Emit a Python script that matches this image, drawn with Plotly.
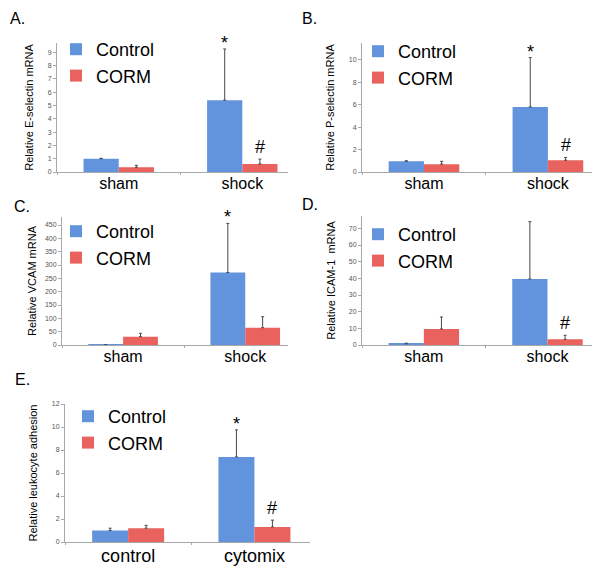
import plotly.graph_objects as go

# ---------------- data ----------------
series_names = ["Control", "CORM"]

a_categories = ["sham", "shock"]
a_control = [1.0, 5.4]
a_control_err = [0.03, 3.85]
a_corm = [0.35, 0.6]
a_corm_err = [0.15, 0.37]

b_categories = ["sham", "shock"]
b_control = [0.95, 5.8]
b_control_err = [0.05, 4.4]
b_corm = [0.7, 1.05]
b_corm_err = [0.25, 0.25]

c_categories = ["sham", "shock"]
c_control = [1.0, 272]
c_control_err = [0.5, 184]
c_corm = [31, 65]
c_corm_err = [13, 41]

d_categories = ["sham", "shock"]
d_control = [0.7, 39.6]
d_control_err = [0.4, 34.4]
d_corm = [9.6, 3.4]
d_corm_err = [7.2, 2.4]

e_categories = ["control", "cytomix"]
e_control = [1.0, 7.4]
e_control_err = [0.2, 2.35]
e_corm = [1.2, 1.3]
e_corm_err = [0.25, 0.6]

# significance marks: (group index, series index, symbol)
a_marks = [(1, 0, "*"), (1, 1, "#")]
b_marks = [(1, 0, "*"), (1, 1, "#")]
c_marks = [(1, 0, "*")]
d_marks = [(1, 1, "#")]
e_marks = [(1, 0, "*"), (1, 1, "#")]

y_titles = ["Relative E-selectin mRNA", "Relative P-selectin mRNA",
            "Relative VCAM mRNA", "Relative ICAM-1  mRNA",
            "Relative leukocyte adhesion"]
panel_letters = ["A.", "B.", "C.", "D.", "E."]

# ---------------- styling ----------------
# The page body keeps its default 8px margin, so the figure is drawn 8px in from
# the window's top-left corner; layout positions below are given in window pixels.
OFF = 8
W, H = 600 - OFF, 568 - OFF
BLUE = "#6294de"
RED = "#e9625d"
BARGAP = 0.43
FONT = "Liberation Sans, Arial, sans-serif"


def fx(px):
    return (px - OFF) / W


def fy(py):
    return 1 - (py - OFF) / H


panels = [
    dict(cats=a_categories, ctrl=a_control, ctrl_err=a_control_err, corm=a_corm, corm_err=a_corm_err,
         marks=a_marks, xpx=(57, 288), ypx=(43, 172), xr=[-0.5, 1.37], yr=[0, 9.7], dtick=1,
         legend=(56, 31), catsize=16, standoff=11),
    dict(cats=b_categories, ctrl=b_control, ctrl_err=b_control_err, corm=b_corm, corm_err=b_corm_err,
         marks=b_marks, xpx=(362, 595), ypx=(43, 172), xr=[-0.5, 1.38], yr=[0, 11.5], dtick=2,
         legend=(358, 33), catsize=16, standoff=11),
    dict(cats=c_categories, ctrl=c_control, ctrl_err=c_control_err, corm=c_corm, corm_err=c_corm_err,
         marks=c_marks, xpx=(62, 288), ypx=(217, 345), xr=[-0.5, 1.35], yr=[0, 480], dtick=50,
         legend=(56, 213), catsize=16, standoff=6),
    dict(cats=d_categories, ctrl=d_control, ctrl_err=d_control_err, corm=d_corm, corm_err=d_corm_err,
         marks=d_marks, xpx=(362, 592), ypx=(216, 345), xr=[-0.5, 1.36], yr=[0, 77.4], dtick=10,
         legend=(358, 216), catsize=16, standoff=10),
    dict(cats=e_categories, ctrl=e_control, ctrl_err=e_control_err, corm=e_corm, corm_err=e_corm_err,
         marks=e_marks, xpx=(65, 310), ypx=(404, 542), xr=[-0.5, 1.44], yr=[0, 12], dtick=2,
         legend=(68, 398), catsize=18, standoff=11),
]
letter_pos = [(8, 18), (300, 18), (12, 206), (300, 204), (13, 379)]

fig = go.Figure()
layout = dict(width=W, height=H, margin=dict(l=0, r=0, t=0, b=0, autoexpand=False),
              paper_bgcolor="white", plot_bgcolor="white",
              barmode="group", bargap=BARGAP, bargroupgap=0,
              font=dict(family=FONT, color="black"))
annotations = []
bar_w = (1 - BARGAP) / 2

for i, p in enumerate(panels):
    n = i + 1
    xa = "x" if n == 1 else f"x{n}"
    ya = "y" if n == 1 else f"y{n}"
    lg = "legend" if n == 1 else f"legend{n}"
    for name, vals, errs, col in [(series_names[0], p["ctrl"], p["ctrl_err"], BLUE),
                                  (series_names[1], p["corm"], p["corm_err"], RED)]:
        fig.add_trace(go.Bar(
            x=p["cats"], y=vals, name=name, xaxis=xa, yaxis=ya, legend=lg,
            marker=dict(color=col, line=dict(width=0)),
            error_y=dict(type="data", array=errs, arrayminus=[0] * len(errs), symmetric=False,
                         color="#4a4a4a", thickness=1, width=1.5),
        ))
    x0, x1 = p["xpx"]
    yt, yb = p["ypx"]
    layout[f"xaxis{'' if n == 1 else n}"] = dict(
        domain=[fx(x0), fx(x1)], anchor=ya, range=p["xr"], type="category", automargin=False,
        showline=True, linecolor="#a8a8a8", linewidth=1, ticks="outside", tickson="boundaries",
        ticklen=2, tickcolor="#a8a8a8", tickfont=dict(size=p["catsize"], family=FONT, color="black"),
        ticklabelstandoff=-3,
        showgrid=False, zeroline=False, fixedrange=True)
    layout[f"yaxis{'' if n == 1 else n}"] = dict(
        domain=[fy(yb), fy(yt)], anchor=xa, range=p["yr"], dtick=p["dtick"], tick0=0,
        automargin=False,
        showline=True, linecolor="#a8a8a8", linewidth=1, ticks="outside", ticklen=3,
        tickcolor="#a8a8a8", tickfont=dict(size=7, family=FONT, color="#555555"),
        showgrid=False, zeroline=False,
        title=dict(text=y_titles[i], font=dict(size=11, family=FONT, color="black"),
                   standoff=p["standoff"]))
    lx, ly = p["legend"]
    layout[lg] = dict(x=fx(lx), y=fy(ly), xanchor="left", yanchor="top",
                      bgcolor="rgba(0,0,0,0)", font=dict(size=18, family=FONT, color="black"),
                      tracegroupgap=0, itemclick=False, itemdoubleclick=False)
    for (g, s, sym) in p["marks"]:
        vals = p["ctrl"] if s == 0 else p["corm"]
        errs = p["ctrl_err"] if s == 0 else p["corm_err"]
        xpos = g + (-bar_w / 2 if s == 0 else bar_w / 2)
        annotations.append(dict(x=xpos, y=vals[g] + errs[g], xref=xa, yref=ya, text=sym,
                                showarrow=False, yanchor="bottom",
                                yshift=(-6 if sym == "*" else 0),
                                font=dict(size=18, family=FONT, color="black")))
    lxp, lyp = letter_pos[i]
    annotations.append(dict(x=fx(lxp), y=fy(lyp), xref="paper", yref="paper",
                            text=panel_letters[i], showarrow=False, xanchor="left", yanchor="middle",
                            font=dict(size=16, family=FONT, color="black")))

layout["annotations"] = annotations
fig.update_layout(**layout)
fig.write_html("out.html")
